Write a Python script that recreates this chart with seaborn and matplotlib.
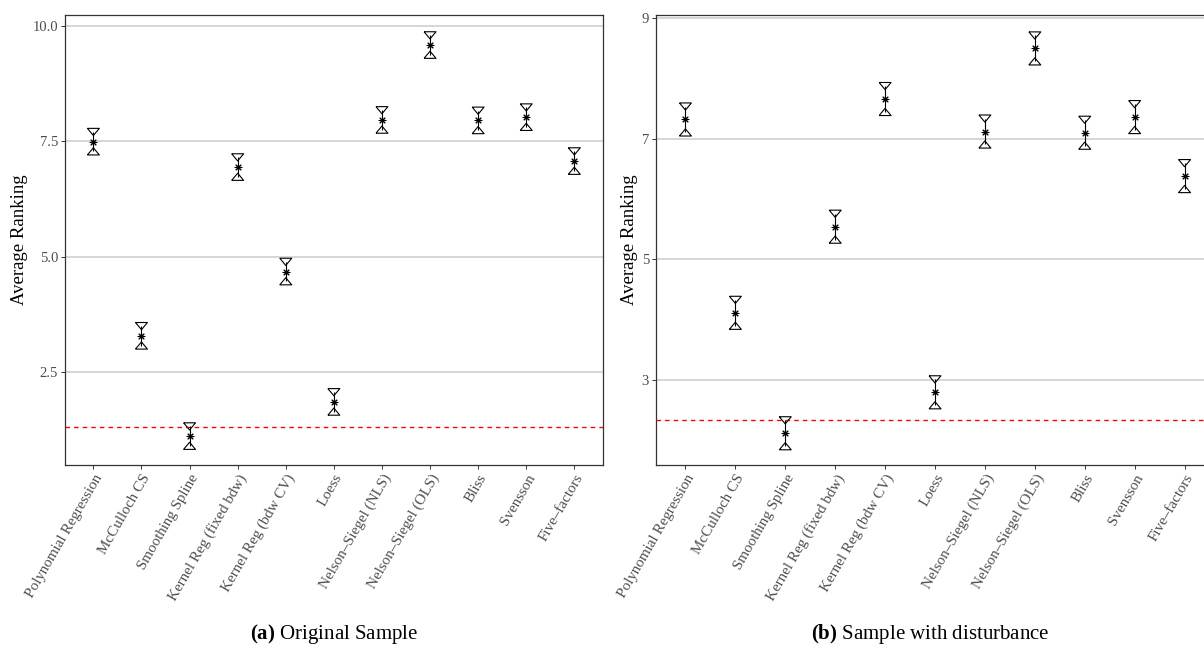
import matplotlib
matplotlib.use("Agg")
import matplotlib.pyplot as plt
import seaborn as sns
import pandas as pd
import numpy as np

# ---------------- data ----------------
methods = ["Polynomial Regression", "McCulloch CS", "Smoothing Spline",
           "Kernel Reg (fixed bdw)", "Kernel Reg (bdw CV)", "Loess",
           "Nelson\u2013Siegel (NLS)", "Nelson\u2013Siegel (OLS)", "Bliss",
           "Svensson", "Five\u2013factors"]

avg_orig = [7.49, 3.29, 1.12, 6.94, 4.68, 1.86, 7.96, 9.58, 7.95, 8.02, 7.07]
ci_orig = [0.21, 0.21, 0.21, 0.21, 0.21, 0.21, 0.21, 0.21, 0.21, 0.21, 0.21]
cd_orig = 1.324

avg_dist = [7.32, 4.11, 2.11, 5.54, 7.66, 2.79, 7.12, 8.50, 7.10, 7.36, 6.38]
ci_dist = [0.215, 0.215, 0.215, 0.215, 0.215, 0.215, 0.215, 0.215, 0.215, 0.215, 0.215]
cd_dist = 2.325

yticks_orig = [2.5, 5.0, 7.5, 10.0]
yticklabels_orig = ["2.5", "5.0", "7.5", "10.0"]
yticks_dist = [3, 5, 7, 9]
yticklabels_dist = ["3", "5", "7", "9"]

captions = [("(a)", "Original Sample"), ("(b)", "Sample with disturbance")]

# ---------------- style ----------------
sns.set_style("white")
plt.rcParams["font.family"] = ["Liberation Serif", "DejaVu Serif"]
plt.rcParams["mathtext.fontset"] = "custom"
plt.rcParams["mathtext.rm"] = "Liberation Serif"
plt.rcParams["mathtext.bf"] = "Liberation Serif:bold"

W, H = 1204, 656
fig = plt.figure(figsize=(W / 100, H / 100), dpi=100)

def px_axes(x0, x1, y0, y1):
    return fig.add_axes([x0 / W, 1 - y1 / H, (x1 - x0) / W, (y1 - y0) / H])

ax_a = px_axes(65, 602.7, 15, 465)
ax_b = px_axes(656, 1214, 15, 465)

tri_down = [(-1, 0.6), (1, 0.6), (0, -0.6), (-1, 0.6)]
tri_up = [(-1, -0.6), (1, -0.6), (0, 0.6), (-1, -0.6)]
asterisk = (8, 2, 0)

def draw(ax, avg, ci, cd, ylim, yticks, yticklabels, label_x):
    df = pd.DataFrame({"method": methods, "avg": avg, "ci": ci})
    df["upper"] = df["avg"] + df["ci"]
    df["lower"] = df["avg"] - df["ci"]

    sns.scatterplot(data=df, x="method", y="avg", marker=asterisk, s=24,
                    color="black", linewidth=0.75, ax=ax, zorder=5)
    ax.collections[-1].set_edgecolor("black")
    sns.scatterplot(data=df, x="method", y="upper", marker=tri_down, s=74,
                    color="black", linewidth=0.8, ax=ax, zorder=5)
    ax.collections[-1].set_facecolor("none")
    ax.collections[-1].set_edgecolor("black")
    sns.scatterplot(data=df, x="method", y="lower", marker=tri_up, s=74,
                    color="black", linewidth=0.8, ax=ax, zorder=5)
    ax.collections[-1].set_facecolor("none")
    ax.collections[-1].set_edgecolor("black")
    ax.errorbar(df["method"], df["avg"], yerr=df["ci"], fmt="none",
                ecolor="black", elinewidth=0.8, capsize=0, zorder=4)

    ax.axhline(cd, color="red", lw=1.0, ls=(0, (3.2, 3.0)), zorder=3)

    ax.set_xlim(-0.59, len(methods) - 1 + 0.59)
    ax.set_ylim(*ylim)
    ax.set_yticks(yticks)
    ax.set_yticklabels(yticklabels)
    ax.set_xticks(range(len(methods)))
    ax.set_xticklabels(methods)
    plt.setp(ax.get_xticklabels(), rotation=60, ha="right", va="top",
             rotation_mode="anchor", fontsize=10.8)

    ax.yaxis.grid(True, color="#CCCCCC", lw=1.1)
    ax.xaxis.grid(False)
    ax.set_axisbelow(True)
    for s in ax.spines.values():
        s.set_color("#333333")
        s.set_linewidth(0.9)
    ax.tick_params(axis="both", which="major", length=3, width=0.7,
                   color="#333333", labelcolor="#4D4D4D", pad=2,
                   left=True, bottom=True)
    ax.tick_params(axis="y", labelsize=10.5)
    ax.set_xlabel("")
    ax.set_ylabel("Average Ranking", fontsize=13.5, color="black")
    ax.yaxis.set_label_coords(label_x, 0.5)

draw(ax_a, avg_orig, ci_orig, cd_orig, (0.495, 10.23), yticks_orig,
     yticklabels_orig, (28 - 65) / 537.7)
draw(ax_b, avg_dist, ci_dist, cd_dist, (1.583, 9.055), yticks_dist,
     yticklabels_dist, (638 - 656) / 558)

for (tag, text), xc in zip(captions, [334, 930]):
    fig.text(xc / W, 1 - 634 / H, r"$\mathbf{" + tag + "}$ " + text,
             ha="center", va="center", fontsize=15, color="black")

fig.savefig("out.png", dpi=100)
